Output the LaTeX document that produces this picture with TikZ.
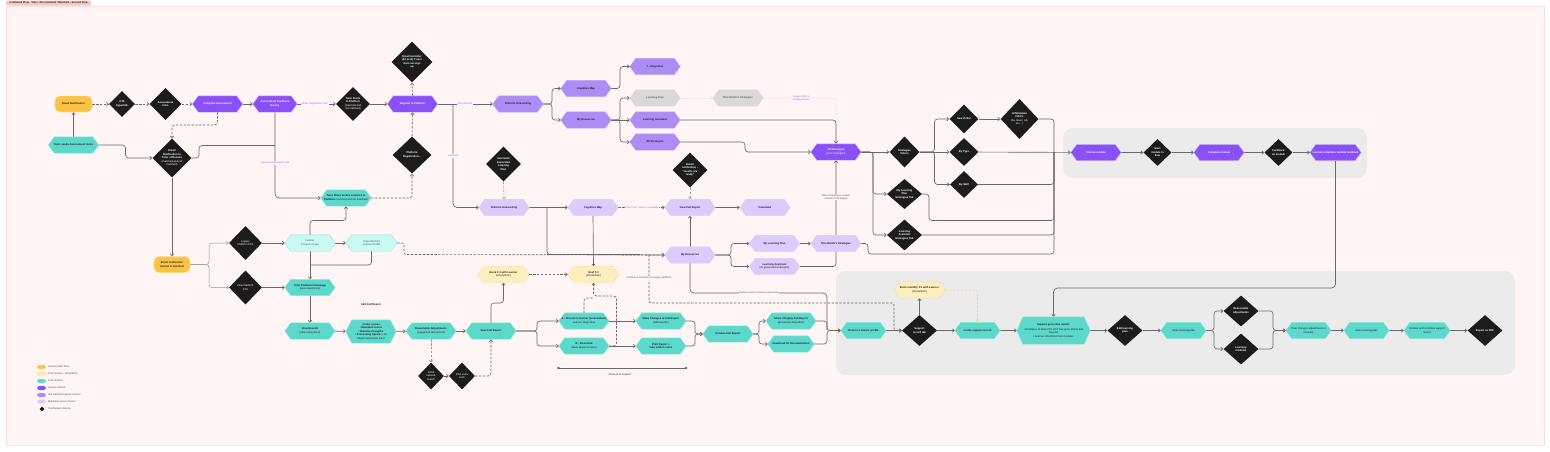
\documentclass[tikz,border=0pt]{standalone}
\usepackage{fontspec}
\setmainfont{Liberation Sans}
\usetikzlibrary{arrows.meta,shapes.geometric,calc}
\definecolor{panelc}{HTML}{FFF5F4}
\definecolor{panelb}{HTML}{FBDDDA}
\definecolor{tabc}{HTML}{F9C6C2}
\definecolor{greyp}{HTML}{EBEBEB}
\definecolor{yel}{HTML}{FBC343}
\definecolor{teal1}{HTML}{5DD9CC}
\definecolor{tealb}{HTML}{8FE8DC}
\definecolor{teall}{HTML}{C9FAF4}
\definecolor{pur}{HTML}{8A50F7}
\definecolor{purb}{HTML}{CDB8FB}
\definecolor{mid}{HTML}{AD8CF5}
\definecolor{lil}{HTML}{DCCBFD}
\definecolor{gry}{HTML}{D9D9D9}
\definecolor{offy}{HTML}{FDEEC0}
\definecolor{offb}{HTML}{F7D48A}
\definecolor{blk}{HTML}{1C1C1C}
\definecolor{linec}{HTML}{6A6A6A}
\definecolor{labp}{HTML}{9A6AF7}
\definecolor{lightl}{HTML}{EFEBEA}
\makeatletter
\pgfdeclareshape{hexshape}{
  \inheritsavedanchors[from=rectangle]
  \inheritanchorborder[from=rectangle]
  \inheritanchor[from=rectangle]{center}
  \inheritanchor[from=rectangle]{north}
  \inheritanchor[from=rectangle]{south}
  \inheritanchor[from=rectangle]{east}
  \inheritanchor[from=rectangle]{west}
  \backgroundpath{
    \southwest \pgf@xa=\pgf@x \pgf@ya=\pgf@y
    \northeast \pgf@xb=\pgf@x \pgf@yb=\pgf@y
    \pgf@yc=\pgf@ya \advance\pgf@yc by \pgf@yb \divide\pgf@yc by 2
    \pgf@xc=\pgf@xa \advance\pgf@xc by 6pt
    \pgfutil@tempdima=\pgf@xb \advance\pgfutil@tempdima by -6pt
    \pgfpathmoveto{\pgfqpoint{\pgf@xa}{\pgf@yc}}
    \pgfpathlineto{\pgfqpoint{\pgf@xc}{\pgf@yb}}
    \pgfpathlineto{\pgfqpoint{\pgfutil@tempdima}{\pgf@yb}}
    \pgfpathlineto{\pgfqpoint{\pgf@xb}{\pgf@yc}}
    \pgfpathlineto{\pgfqpoint{\pgfutil@tempdima}{\pgf@ya}}
    \pgfpathlineto{\pgfqpoint{\pgf@xc}{\pgf@ya}}
    \pgfpathclose
  }
}
\makeatother
\newcommand{\rgt}[1]{{\mdseries #1}}
\newcommand{\dmd}[6]{\node[dmdbase,minimum width=2*#4,minimum height=2*#5] (#1) at (#2,#3) {};
  \node[dmdtext] (#1-t) at (#1) {#6};}
\tikzset{
  txt/.style={font=\fontsize{2.65}{3.5}\selectfont\bfseries,align=center,inner sep=0pt},
  hx/.style={shape=hexshape,txt,minimum width=50,minimum height=16,line width=.4pt},
  tutor/.style={hx,fill=teal1,draw=tealb,text=blk},
  tutl/.style={hx,fill=teall,draw=tealb,text=blk!75},
  learner/.style={hx,fill=pur,draw=purb,text=white},
  notm/.style={hx,fill=mid,draw=mid!80,text=blk},
  matc/.style={hx,fill=lil,draw=lil,text=blk},
  gryh/.style={hx,fill=gry,draw=gry,text=blk!70},
  offp/.style={hx,fill=offy,draw=offb,dash pattern=on 1.5pt off 1pt,text=blk},
  starty/.style={txt,fill=yel,draw=yel!60,rounded corners=5pt,minimum height=16,text=blk},
  dmdbase/.style={shape=diamond,fill=blk,draw=none,inner sep=0pt},
  dmdtext/.style={txt,text=white},
  cn/.style={draw=linec,line width=.65pt,rounded corners=3pt,-{Straight Barb[length=2pt,width=3.4pt]}},
  cnn/.style={cn,-},
  dsh/.style={dash pattern=on 2.4pt off 1.5pt},
  pale/.style={draw=lightl,line width=.8pt},
  thin2/.style={draw=linec!70,line width=.5pt},
  lbl/.style={font=\fontsize{2.5}{3.3}\selectfont\mdseries,align=center,inner sep=.6pt,fill=panelc,text=blk!75},
  plbl/.style={lbl,text=labp},
  legsw/.style={rounded corners=1.8pt,minimum width=9,minimum height=4,inner sep=0pt},
  legt/.style={font=\fontsize{2.5}{3.2}\selectfont,anchor=west,inner sep=0pt,text=blk!80},
}
\pgfdeclarelayer{backl}
\pgfdeclarelayer{connl}
\pgfsetlayers{backl,connl,main}
\begin{document}
\begin{tikzpicture}[x=1pt,y=-1pt]
\useasboundingbox (0,0) rectangle (1550,451);
\begin{pgfonlayer}{backl}
\fill[white] (0,0) rectangle (1550,451);
\draw[fill=panelc,draw=panelb,line width=.5pt] (6,6) rectangle (1544,445);
\fill[greyp,rounded corners=10pt] (1063,128) rectangle (1367,178);
\fill[greyp,rounded corners=10pt] (836,271) rectangle (1515,375);
\end{pgfonlayer}
\node[fill=tabc,rounded corners=1pt,minimum width=85,minimum height=5,inner sep=0pt,font=\fontsize{2.65}{3}\selectfont\bfseries,text=blk] (tab) at (48.5,3) {Combined Flow - Tutor / Not matched / Matched - Second Step};
% row 1
\node[starty,minimum width=37] (email) at (73.5,104) {Email Notification};
\dmd{cta}{122}{104}{13}{13}{CTA\\hyperlink}
\dmd{intro}{165.5}{104}{16}{16}{Assessment\\Intro}
\node[learner] (complete) at (217.5,104) {Complete Assessment};
\node[learner,minimum width=44] (survey) at (275,104) {Assessment Feedback\\Survey};
\dmd{starts}{353}{104}{17}{17}{Tutor Starts\\in Platform\\\rgt{(matched and}\\\rgt{not matched)}}
\node[learner] (register) at (412.5,104) {Register to Platform};
\dmd{remind}{412}{62}{20.5}{20.5}{Email reminder\\(3d post) if user\\does not sign\\up}
\dmd{platreg}{412}{155}{19.5}{18.5}{Platform\\Registration...}
\node[tutor] (invite) at (73.5,145) {Tutor sends Assessment Invite};
\dmd{notif}{172}{158}{19.5}{19.5}{Email\\Notification to\\Tutor of Results\\\rgt{(matched and not}\\\rgt{matched)}}
\node[tutor] (share) at (346,198) {Tutor Share Invites Learners to\\Platform \rgt{(matched and not matched)}};
% left column
\node[starty,minimum width=36] (emailm) at (172,264.5) {Email notification\\learner is matched};
\dmd{legacy}{245.5}{243}{16.5}{17}{\rgt{Legacy}\\\rgt{Platform CTA}}
\dmd{newcta}{245.5}{287.5}{16.5}{17}{\rgt{New Platform}\\\rgt{CTA}}
\node[tutl] (progress) at (310,243) {\rgt{Learner}\\\rgt{Progress Page}};
\node[tutl,minimum width=51] (viewm) at (371.5,243) {\rgt{View Matched}\\\rgt{Learner Profile}};
\node[tutor] (home) at (310,287.5) {Tutor Platform Homepage\\\rgt{(new experience)}};
\node[tutor] (results) at (310,331) {View Results\\\rgt{(New experience)}};
\node[tutor,minimum height=23] (index) at (371,331.5) {• Index scores\\• Standard scores\\• Relative strengths\\• Processing Speed \rgt{(+ Lit}\\\rgt{adjustments/extra time)}};
\node[txt,text=blk] (addfull) at (371,305) {Add Full Report};
\node[tutor] (adj) at (431,331) {Reasonable Adjustments\\\rgt{(suggested tailored list)}};
\dmd{search}{431}{376}{13}{13.5}{\rgt{Send}\\\rgt{tailored}\\\rgt{search}}
\dmd{plan}{462}{376}{13}{13.5}{\rgt{Plan extra}\\\rgt{work}}
\node[tutor] (save) at (491,331) {Save Full Report};
\node[offp,minimum width=51] (book) at (503.5,274.5) {Book 1:1 with Learner\\\rgt{(off platform)}};
\node[offp,minimum width=51] (host) at (593.5,274.5) {Host 1:1\\\rgt{(off platform)}};
\node[tutor] (present) at (584,321) {A - Present to learner (screenshare)\\\rgt{Learner Deep Dive}};
\node[tutor] (dload) at (584,346) {B - Download\\\rgt{(takes physical notes)}};
\node[tutor] (changes) at (661,321) {Make Changes to Full Report\\\rgt{(with learner)}};
\node[tutor] (print) at (661,346) {Print Report +\\take written notes};
\node[tutor] (final) at (728,334) {Finalise Full Report};
\node[tutor] (display) at (791,321) {Share / Display Full Report\\\rgt{(previously deep dive)}};
\node[tutor,minimum width=46] (docs) at (791,344) {Download for Documentation};
% not matched
\node[notm] (onb) at (518,104) {Platform Onboarding};
\node[notm] (cogn) at (586,88.5) {Cognitive Map};
\node[notm] (resn) at (586,120) {My Resources};
\node[notm] (deep) at (655,66.5) {1 - Deep Dive};
\node[gryh] (lplan) at (655,98) {Learning Plan};
\node[gryh] (month) at (738,98) {This Month's Strategies};
\node[notm] (lassist) at (655,120) {Learning Assistant};
\node[notm] (alln) at (655,142) {All Strategies};
% matched
\node[matc] (onbm) at (504,207.5) {Platform Onboarding};
\node[matc] (cogm) at (593,207.5) {Cognitive Map};
\node[matc] (full) at (690,207.5) {View Full Report};
\node[matc] (down) at (765,207.5) {Download};
\dmd{auto}{503.5}{164}{17.5}{17.5}{Automatic\\Generated\\Learning\\Plan}
\dmd{ready}{690}{170}{17.5}{17.5}{Email\\notification -\\"results are\\ready"}
\node[matc] (resm) at (690,255) {My Resources};
\node[matc] (mylp) at (774.5,243.5) {My Learning Plan};
\node[matc] (lam) at (774.5,266.5) {Learning Assistant\\\rgt{(AI generated Strategies)}};
\node[matc] (monthm) at (836,243.5) {This Month's Strategies};
\node[learner] (alls) at (836,152) {All Strategies\\\rgt{(your strategies)}};
\dmd{filters}{904.5}{152}{15}{15.5}{Strategies\\Filters}
\dmd{lptab}{904.5}{194}{17.5}{15}{My Learning\\Plan\\Strategies Tab}
\dmd{latab}{904.5}{235}{17.5}{15.5}{Learning\\Assistant\\Strategies Tab}
\dmd{sbar}{964}{119}{14.5}{14.5}{Search Bar}
\dmd{btype}{964}{152}{14.5}{14}{By Type}
\dmd{bskill}{964}{184.5}{14}{13.5}{By Skill}
\dmd{meta}{1019.5}{119}{19}{20}{AI Metadata\\Filters\\\rgt{(by clever, AA}\\\rgt{etc...)}}
% module panel
\node[learner] (choose) at (1096,152.5) {Choose module};
\dmd{startm}{1157.5}{152.5}{14}{13.5}{Start\\module in\\flow}
\node[learner] (compm) at (1219,152.5) {Complete module};
\dmd{feedb}{1278.5}{152.5}{14}{13.5}{Feedback\\on module}
\node[learner,minimum width=51] (lcomp) at (1335.5,152.5) {Learner completes module feedback};
% support panel
\node[offp,minimum width=51] (bookm) at (919.5,290) {Book monthly 1:1 with Learner\\\rgt{(off platform)}};
\node[tutor,minimum width=45] (ret) at (863.5,330.5) {Return to learner profile};
\dmd{strec}{919.5}{330.5}{17.5}{15.5}{Support\\record tab}
\node[tutor,minimum width=45] (create) at (977.5,330.5) {Create support record};
\node[tutor,minimum width=73,minimum height=27] (given) at (1053.5,330.5) {Support given this month:\\[.8pt]\rgt{• Examples of where the tutor has gone above and}\\\rgt{beyond}\\\rgt{• Learner reflections from modules}};
\dmd{editp}{1125}{330.5}{17.5}{15.5}{Edit learning\\plan}
\node[tutor,minimum width=45] (openp) at (1183.5,330.5) {\rgt{Open learning plan}};
\dmd{radj}{1241}{311}{17.5}{15.5}{Reasonable\\adjustments}
\dmd{lmod}{1241}{349}{17.5}{15.5}{Learning\\modules}
\node[tutor,minimum width=45] (tchg) at (1308.5,330.5) {\rgt{Tutor changes adjustments or}\\\rgt{modules}};
\node[tutor,minimum width=45] (openq) at (1366.5,330.5) {\rgt{Open learning plan}};
\node[tutor,minimum width=46] (finsup) at (1427,330.5) {\rgt{Finalise and complete support}\\\rgt{record}};
\dmd{pdf}{1485}{330.5}{17.5}{15.5}{Export as PDF}
% free points
\coordinate (pa) at (558.5,368);
\coordinate (pb) at (686,368);
\begin{pgfonlayer}{connl}
% row 1
\draw[cn,dsh] (email) -- (cta);
\draw[cn,dsh] (cta) -- (intro);
\draw[cn,dsh] (intro) -- (complete);
\draw[cn] (complete) -- (survey);
\draw[cn] (survey) -- (starts);
\draw[cn] (starts) -- (register);
\draw[cn] (invite) -- (email);
\draw[cn] (invite.east) -| (125.5,158) -- (notif.west);
\draw[cn,dsh] (complete.south) |- (172,125) -- (notif.north);
\draw[cn,rounded corners=4pt] (survey.south) |- (share.west);
\draw[cnn] (notif.east) -| (199,145.5) -- (275,145.5);
\draw[cn] (notif.south) -- (emailm.north);
\draw[cn,thin2] (emailm.east) -| (209,243) -- (legacy.west);
\draw[cn,thin2] (emailm.east) -| (209,287.5) -- (newcta.west);
\draw[cn] (legacy) -- (progress);
\draw[cn] (newcta) -- (home);
\draw[cn] (progress) -- (viewm);
\draw[cn] (progress.north) |- (346,220.5) -- (share.south);
\draw[cn] (progress) -- (home);
\draw[cnn] (viewm.south) |- (310,265);
\draw[cn] (home) -- (results);
\draw[cn] (results) -- (index);
\draw[cn] (index) -- (adj);
\draw[cn] (adj) -- (save);
\draw[cn,dsh,draw=linec!70] (adj.south) -- (search.north);
\draw[cn] (search) -- (plan);
\draw[cn,dsh] (plan.east) -| (save.south);
\draw[cn,dsh] (share.east) -| (platreg.south);
\draw[cn,dsh] (platreg.north) -- (register.south);
\draw[cn,dsh] (register.north) -- (remind.south);
\draw[cn,dsh,rounded corners=2pt] (viewm.east) -| (404,254.5) -- (resm.west);
\draw[cn] (547,254.5) -- (resm.west);
% not matched
\draw[cn] (register) -- (onb);
\draw[cn,rounded corners=4pt] (453,104) |- (onbm.west);
\draw[cn] (onb.east) -| (552,88.5) -- (cogn.west);
\draw[cn] (onb.east) -| (552,120) -- (resn.west);
\draw[cn] (cogn.east) -| (620,66.5) -- (deep.west);
\draw[cn] (resn.east) -| (620,98) -- (lplan.west);
\draw[cn] (resn) -- (lassist);
\draw[cn] (resn.east) -| (620,142) -- (alln.west);
\draw[cn,pale] (lplan) -- (month);
\draw[cn,pale] (month.east) -| (alls.north);
\draw[cn] (lassist.east) -| (alls.north);
\draw[cn] (alln.east) -| (745,152) -- (alls.west);
% matched
\draw[cn,dsh,draw=linec!60] (auto.south) -- (onbm.north);
\draw[cn,dsh,draw=linec!60] (ready.south) -- (full.north);
\draw[cn] (onbm) -- (cogm);
\draw[cnn] (547,207.5) |- (640,254.5);
\draw[cn,dsh] (cogm) -- (full);
\draw[cn] (full) -- (down);
\draw[cn] (cogm.south) -- (host.north);
\draw[cn] (resm.north) -- (full.south);
\draw[cn] (resm.east) -| (731,243.5) -- (mylp.west);
\draw[cn] (resm.east) -| (731,266.5) -- (lam.west);
\draw[cn] (mylp) -- (monthm);
\draw[cn] (lam.east) -| (alls.south);
\draw[cnn,rounded corners=4pt] (resm.south) |- (827,293) -- (827,330);
\draw[cn,dsh,rounded corners=2pt] (649,254.5) |- (894,303) |- (strec.west);
% report row
\draw[cn] (save.north) |- (503.5,303) -- (book.south);
\draw[cn,dsh] (book) -- (host);
\draw[cnn,dsh] (present.north) |- (593.5,298);
\draw[cn,dsh] (dload.east) -| (616.5,296) -| (host.south);
\draw[cn] (save.east) -| (537,321) -- (present.west);
\draw[cn] (save.east) -| (537,346) -- (dload.west);
\draw[cn] (present) -- (changes);
\draw[cn] (dload) -- (print);
\draw[cn] (changes.east) -| (695,334) -- (final.west);
\draw[cn] (print.east) -| (695,334) -- (final.west);
\draw[cn] (final.east) -| (759,321) -- (display.west);
\draw[cn] (final.east) -| (759,344) -- (docs.west);
\draw[cn] (display.east) -| (827,330.5) -- (ret.west);
\draw[cn] (docs.east) -| (827,330.5) -- (ret.west);
% strategies
\draw[cn] (alls) -- (filters);
\draw[cn] (alls.east) -| (873,194) -- (lptab.west);
\draw[cn] (alls.east) -| (873,235) -- (latab.west);
\draw[cn] (filters.east) -| (934.5,119) -- (sbar.west);
\draw[cn] (filters) -- (btype);
\draw[cn] (filters.east) -| (934.5,184.5) -- (bskill.west);
\draw[cn] (sbar) -- (meta);
\draw[cnn] (meta.east) -| (1054,152);
\draw[cn] (btype) -- (choose);
\draw[cnn] (bskill.east) -| (1054,152);
\draw[cnn] (lptab.east) -| (929,220.5) -| (1054,152);
\draw[cnn] (latab.east) -| (1054,152);
\draw[cnn] (monthm.east) -| (868,254) -| (1054,152);
% modules
\draw[cn] (choose) -- (startm);
\draw[cn] (startm) -- (compm);
\draw[cn] (compm) -- (feedb);
\draw[cn] (feedb) -- (lcomp);
\draw[cn,rounded corners=4pt] (lcomp.south) |- (1053.5,288) -- (given.north);
% support
\draw[cn] (ret) -- (strec);
\draw[cn] (strec.north) -- (bookm.south);
\draw[cn,dsh,draw=offb,line width=.6pt] (bookm.east) -| (create.north);
\draw[cn] (strec) -- (create);
\draw[cn] (create) -- (given);
\draw[cn] (given) -- (editp);
\draw[cn] (editp) -- (openp);
\draw[cn] (openp.east) -| (1214,311) -- (radj.west);
\draw[cn] (openp.east) -| (1214,349) -- (lmod.west);
\draw[cn] (radj.east) -| (1273,330.5) -- (tchg.west);
\draw[cn] (lmod.east) -| (1273,330.5) -- (tchg.west);
\draw[cn] (tchg) -- (openq);
\draw[cn] (openq) -- (finsup);
\draw[cn] (finsup) -- (pdf);
% present to learner bar
\draw[draw=linec,line width=.6pt] (pa) -- (pb);
\fill[linec] (pa) circle (1.3pt) (pb) circle (1.3pt);
\end{pgfonlayer}
% connector labels
\node[plbl] (l1) at (315,104) {Delay Registration OFF};
\node[plbl] (l2) at (275,163) {Delayed Registration ON};
\node[plbl] (l3) at (465,104) {Not matched};
\node[plbl] (l4) at (453.5,156) {Matched};
\node[plbl] (l5) at (642,207.5) {Once tutor makes it available};
\node[plbl] (l6) at (801,98) {Triggers after a\\certain amount};
\node[lbl] (l7) at (836,197) {after completing a certain\\amount of strategies};
\node[lbl] (l8) at (649,278) {Could be accessed from legacy platform};
\node[lbl] (l9) at (759,293) {Report is sent to learner experience};
\node[lbl,fill=none] (l10) at (620,375) {\bfseries Present to Learner};
% legend
\node[legsw,fill=yel] (k1) at (41.5,367) {};
\node[legt] (k1t) at (48,367) {Journey Start Point};
\node[legsw,fill=offy,draw=offb,line width=.3pt,dash pattern=on 1pt off .7pt] (k2) at (41.5,374) {};
\node[legt] (k2t) at (48,374) {Tutor Actions - off platform};
\node[legsw,fill=teal1] (k3) at (41.5,381) {};
\node[legt] (k3t) at (48,381) {Tutor Actions};
\node[legsw,fill=pur] (k4) at (41.5,388) {};
\node[legt] (k4t) at (48,388) {Learner Actions};
\node[legsw,fill=mid] (k5) at (41.5,395) {};
\node[legt] (k5t) at (48,395) {Not matched Learner Actions};
\node[legsw,fill=lil] (k6) at (41.5,401.5) {};
\node[legt] (k6t) at (48,401.5) {Matched Learner Actions};
\node[dmdbase,minimum size=5] (k7) at (42,409) {};
\node[legt] (k7t) at (48,409) {Tool/System Actions};
\end{tikzpicture}
\end{document}
